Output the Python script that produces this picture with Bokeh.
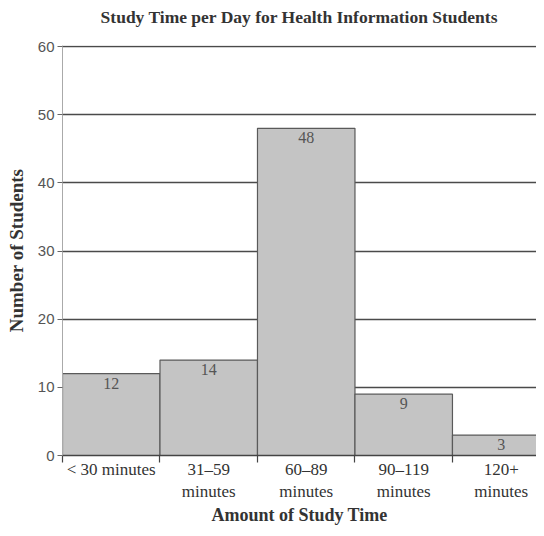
from bokeh.plotting import figure
from bokeh.models import FixedTicker, Range1d, ColumnDataSource, Title
from bokeh.embed import file_html
from bokeh.resources import INLINE
from bokeh.core.properties import value

# ---- data ----
title_text = "Study Time per Day for Health Information Students"
categories = ["< 30 minutes", "31–59\nminutes", "60–89\nminutes", "90–119\nminutes", "120+\nminutes"]
students = [12, 14, 48, 9, 3]
y_ticks = [0, 10, 20, 30, 40, 50, 60]

n = len(students)
left = [float(i) for i in range(n)]
right = [i + 1.0 for i in left]
centers = [i + 0.5 for i in left]
boundaries = [float(i) for i in range(n + 1)]

src = ColumnDataSource(dict(left=left, right=right, top=students, x=centers,
                            label=[str(v) for v in students]))

SERIF = "Liberation Serif"

p = figure(width=536, height=528, output_backend="svg", toolbar_location=None,
           x_range=Range1d(0, 4.862), y_range=Range1d(0, 60.15),
           min_border_left=62, min_border_right=0, min_border_top=45, min_border_bottom=73,
           title=title_text)

p.title.text_font = SERIF
p.title.text_font_style = "bold"
p.title.text_font_size = "17.5px"
p.title.text_color = "#333333"
p.title.align = "center"
p.title.vertical_align = "bottom"
p.title.standoff = 0

# blank spacer between the title and the plot frame
p.add_layout(Title(text=" ", text_font_size="10px", standoff=6), "above")

p.quad(left="left", right="right", bottom=0, top="top", source=src,
       fill_color="#c4c4c4", line_color="#5a5a5a", line_width=1.2)

p.text(x="x", y="top", text="label", source=src, text_align="center", text_baseline="top",
       y_offset=4, text_font=value(SERIF), text_font_size="16px", text_color="#555555")

# x axis
p.xaxis.ticker = FixedTicker(ticks=centers, minor_ticks=boundaries)
p.xaxis.major_label_overrides = {c: lab for c, lab in zip(centers, categories)}
p.xaxis.major_tick_line_color = None
p.xaxis.minor_tick_line_color = "#444444"
p.xaxis.minor_tick_line_width = 1.2
p.xaxis.minor_tick_out = 7
p.xaxis.minor_tick_in = 0
p.xaxis.axis_line_color = "#444444"
p.xaxis.axis_line_width = 1.5
p.xaxis.major_label_text_font = SERIF
p.xaxis.major_label_text_font_size = "17px"
p.xaxis.major_label_text_color = "#333333"
p.xaxis.major_label_standoff = -3
p.xaxis.axis_label = "Amount of Study Time"
p.xaxis.axis_label_text_font = SERIF
p.xaxis.axis_label_text_font_style = "bold"
p.xaxis.axis_label_text_font_size = "18px"
p.xaxis.axis_label_text_color = "#333333"
p.xaxis.axis_label_standoff = 1

# y axis
p.yaxis.ticker = FixedTicker(ticks=y_ticks)
p.yaxis.minor_tick_line_color = None
p.yaxis.major_tick_out = 5
p.yaxis.major_tick_in = 0
p.yaxis.major_tick_line_color = "#666666"
p.yaxis.axis_line_color = "#aaaaaa"
p.yaxis.major_label_text_font = "Liberation Sans"
p.yaxis.major_label_text_font_size = "15px"
p.yaxis.major_label_text_color = "#555555"
p.yaxis.major_label_standoff = 3
p.yaxis.axis_label = "Number of Students"
p.yaxis.axis_label_text_font = SERIF
p.yaxis.axis_label_text_font_style = "bold"
p.yaxis.axis_label_text_font_size = "19px"
p.yaxis.axis_label_text_color = "#333333"
p.yaxis.axis_label_standoff = 8

p.xgrid.grid_line_color = None
p.ygrid.grid_line_color = "#4a4a4a"
p.ygrid.grid_line_width = 1.5
p.outline_line_color = None

open("out.html", "w").write(file_html(p, INLINE))
